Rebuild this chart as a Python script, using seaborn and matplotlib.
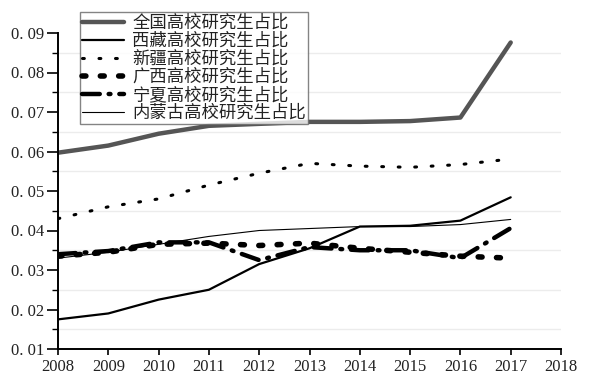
import matplotlib
matplotlib.use("Agg")
import matplotlib.pyplot as plt
import matplotlib.ticker as mticker
import seaborn as sns
import pandas as pd

years = [2008, 2009, 2010, 2011, 2012, 2013, 2014, 2015, 2016, 2017]
national = [0.0597, 0.0615, 0.0645, 0.0665, 0.0670, 0.0675, 0.0675, 0.0677, 0.0686, 0.0876]
xizang = [0.0175, 0.0190, 0.0225, 0.0250, 0.0315, 0.0355, 0.0410, 0.0412, 0.0425, 0.0484]
xinjiang = [0.0430, 0.0460, 0.0480, 0.0515, 0.0545, 0.0570, 0.0563, 0.0560, 0.0567, 0.0581]
guangxi = [0.0335, 0.0345, 0.0365, 0.0368, 0.0362, 0.0368, 0.0355, 0.0345, 0.0335, 0.0330]
ningxia = [0.0340, 0.0348, 0.0370, 0.0370, 0.0325, 0.0358, 0.0350, 0.0350, 0.0330, 0.0406]
neimenggu = [0.0330, 0.0345, 0.0365, 0.0385, 0.0400, 0.0405, 0.0410, 0.0410, 0.0415, 0.0428]
labels = ["全国高校研究生占比", "西藏高校研究生占比", "新疆高校研究生占比",
          "广西高校研究生占比", "宁夏高校研究生占比", "内蒙古高校研究生占比"]

sns.set_theme(style="white")
plt.rcParams['font.family'] = ['Noto Sans CJK SC', 'DejaVu Sans']

fig = plt.figure(figsize=(6.01, 3.8), dpi=100)
ax = fig.add_axes([58/601, 1-349/380, 503/601, (349-33)/380])

series = [national, xizang, xinjiang, guangxi, ningxia, neimenggu]
styles = [
    dict(color="#555555", lw=3.2, ls="-"),
    dict(color="black", lw=1.6, ls="-"),
    dict(color="black", lw=2.2, ls=(0, (0.6, 4.8)), dash_capstyle="round"),
    dict(color="black", lw=4.0, ls=(0, (0.7, 2.6)), dash_capstyle="round"),
    dict(color="black", lw=3.2, ls=(0, (4, 2.0, 0.4, 2.0)), dash_capstyle="round"),
    dict(color="black", lw=0.8, ls="-"),
]
for vals, lab, st in zip(series, labels, styles):
    df = pd.DataFrame({"year": years, "value": vals})
    sns.lineplot(data=df, x="year", y="value", ax=ax, label=lab,
                 color=st["color"], linewidth=st["lw"], linestyle=st["ls"])
    if "dash_capstyle" in st:
        ax.lines[-1].set_dash_capstyle(st["dash_capstyle"])

ax.set_xlim(2008, 2018)
ax.set_ylim(0.01, 0.09)
for g in [0.015, 0.025, 0.035, 0.045, 0.055, 0.065, 0.075, 0.085]:
    ax.axhline(g, color="#ececec", lw=1.0, zorder=0)

ax.set_xticks(range(2008, 2019))
ax.yaxis.set_major_locator(mticker.MultipleLocator(0.01))
ax.yaxis.set_minor_locator(mticker.MultipleLocator(0.005))
ax.yaxis.set_major_formatter(mticker.FuncFormatter(lambda v, p: ("%.2f" % v).replace(".", ". ")))
ax.tick_params(axis="y", which="major", direction="out", length=8, width=1.2, color="black", left=True, pad=2)
ax.tick_params(axis="y", which="minor", direction="out", length=4, width=1.0, color="black", left=True)
ax.tick_params(axis="x", which="major", direction="out", length=4, width=1.2, color="black", bottom=True, pad=3)
for lab in ax.get_xticklabels() + ax.get_yticklabels():
    lab.set_fontfamily("Liberation Serif")
    lab.set_fontsize(12)
    lab.set_color("#222222")

for s in ["top", "right"]:
    ax.spines[s].set_visible(False)
for s in ["left", "bottom"]:
    ax.spines[s].set_color("black")
    ax.spines[s].set_linewidth(1.4)
ax.set_xlabel("")
ax.set_ylabel("")

leg = ax.legend(loc="upper left", bbox_to_anchor=(80/601, 1-12/380), bbox_transform=fig.transFigure,
                borderaxespad=0, frameon=True, fancybox=False, fontsize=12.5,
                handlelength=2.4, handletextpad=0.5, labelspacing=0.0, borderpad=0.12)
leg.get_frame().set_edgecolor("#666666")
leg.get_frame().set_linewidth(1.0)
for t in leg.get_texts():
    t.set_color("#222222")

fig.savefig("out.png", dpi=100)
